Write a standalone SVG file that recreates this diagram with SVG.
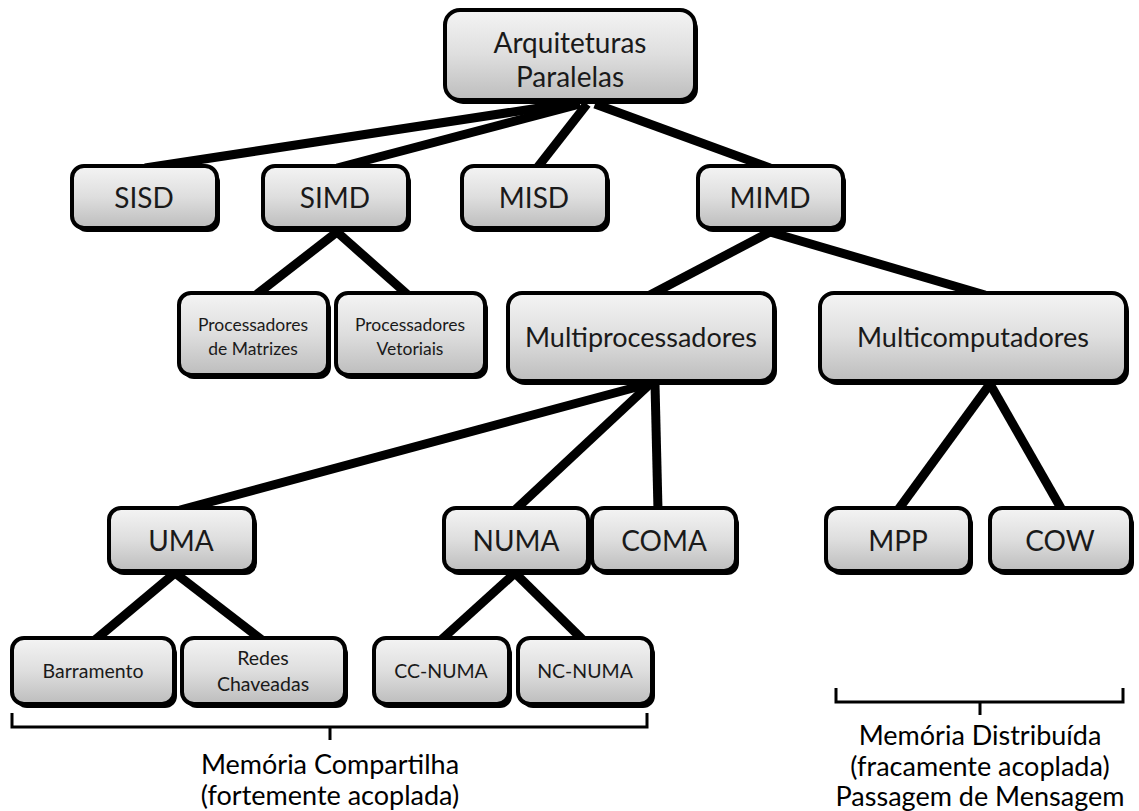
<svg xmlns="http://www.w3.org/2000/svg" width="1139" height="811" viewBox="0 0 1139 811">
  <defs>
    <linearGradient id="boxFill" x1="0" y1="0" x2="0" y2="1">
      <stop offset="0" stop-color="#f4f4f4"/>
      <stop offset="0.5" stop-color="#dedede"/>
      <stop offset="1" stop-color="#bdbdbd"/>
    </linearGradient>
    <style>
      .shadow { fill: #000; }
      .box { fill: url(#boxFill); stroke: #000; stroke-width: 4; }
      .lbl { font-family: Lato, "Open Sans", sans-serif; fill: #1a1a1a; text-anchor: middle; }
      .big { font-size: 28px; }
      .mid { font-size: 27px; }
      .small { font-size: 17.5px; }
      .leaf { font-size: 19.5px; }
      .note { font-family: Lato, "Open Sans", sans-serif; font-size: 27px; fill: #000; text-anchor: middle; }
      .conn { stroke: #000; stroke-width: 9; stroke-linecap: butt; fill: none; }
      .brace { stroke: #000; stroke-width: 3; fill: none; }
    </style>
  </defs>

  <!-- connectors -->
  <g id="connectors">
    <line class="conn" x1="565" y1="104" x2="145" y2="168"/>
    <line class="conn" x1="580" y1="104" x2="337" y2="168"/>
    <line class="conn" x1="587" y1="104" x2="537" y2="168"/>
    <line class="conn" x1="595" y1="104" x2="770" y2="168"/>
    <line class="conn" x1="337" y1="232" x2="256" y2="295"/>
    <line class="conn" x1="337" y1="232" x2="408" y2="295"/>
    <line class="conn" x1="770" y1="232" x2="650" y2="295"/>
    <line class="conn" x1="770" y1="232" x2="985" y2="295"/>
    <line class="conn" x1="648" y1="384" x2="180" y2="510"/>
    <line class="conn" x1="650" y1="384" x2="515" y2="510"/>
    <line class="conn" x1="655" y1="384" x2="658" y2="510"/>
    <line class="conn" x1="990" y1="384" x2="898" y2="510"/>
    <line class="conn" x1="990" y1="384" x2="1062" y2="510"/>
    <line class="conn" x1="175" y1="573" x2="95" y2="640"/>
    <line class="conn" x1="175" y1="573" x2="262" y2="640"/>
    <line class="conn" x1="515" y1="573" x2="441" y2="640"/>
    <line class="conn" x1="515" y1="573" x2="583" y2="640"/>
  </g>

  <!-- nodes -->
  <g id="node-arquiteturas">
    <rect class="shadow" x="448" y="14" width="250" height="90" rx="15"/>
    <rect class="box" x="445" y="10" width="250" height="90" rx="15"/>
    <text class="lbl big" x="570" y="53">Arquiteturas</text>
    <text class="lbl big" x="570" y="87">Paralelas</text>
  </g>
  <g id="node-sisd">
    <rect class="shadow" x="75" y="170" width="145" height="62" rx="12"/>
    <rect class="box" x="72" y="166" width="145" height="62" rx="12"/>
    <text class="lbl big" x="144" y="208">SISD</text>
  </g>
  <g id="node-simd">
    <rect class="shadow" x="266" y="170" width="145" height="62" rx="12"/>
    <rect class="box" x="263" y="166" width="145" height="62" rx="12"/>
    <text class="lbl big" x="335" y="208">SIMD</text>
  </g>
  <g id="node-misd">
    <rect class="shadow" x="465" y="170" width="145" height="62" rx="12"/>
    <rect class="box" x="462" y="166" width="145" height="62" rx="12"/>
    <text class="lbl big" x="534" y="208">MISD</text>
  </g>
  <g id="node-mimd">
    <rect class="shadow" x="701" y="170" width="145" height="62" rx="12"/>
    <rect class="box" x="698" y="166" width="145" height="62" rx="12"/>
    <text class="lbl big" x="770" y="208">MIMD</text>
  </g>
  <g id="node-proc-matrizes">
    <rect class="shadow" x="182" y="297" width="149" height="82" rx="12"/>
    <rect class="box" x="179" y="293" width="149" height="82" rx="12"/>
    <text class="lbl small" x="253" y="331">Processadores</text>
    <text class="lbl small" x="253" y="355">de Matrizes</text>
  </g>
  <g id="node-proc-vetoriais">
    <rect class="shadow" x="339" y="297" width="149" height="82" rx="12"/>
    <rect class="box" x="336" y="293" width="149" height="82" rx="12"/>
    <text class="lbl small" x="410" y="331">Processadores</text>
    <text class="lbl small" x="410" y="355">Vetoriais</text>
  </g>
  <g id="node-multiprocessadores">
    <rect class="shadow" x="511" y="297" width="266" height="88" rx="14"/>
    <rect class="box" x="508" y="293" width="266" height="88" rx="14"/>
    <text class="lbl mid" x="641" y="347">Multiprocessadores</text>
  </g>
  <g id="node-multicomputadores">
    <rect class="shadow" x="823" y="297" width="306" height="88" rx="14"/>
    <rect class="box" x="820" y="293" width="306" height="88" rx="14"/>
    <text class="lbl mid" x="973" y="347">Multicomputadores</text>
  </g>
  <g id="node-uma">
    <rect class="shadow" x="112" y="512" width="145" height="63" rx="12"/>
    <rect class="box" x="109" y="508" width="145" height="63" rx="12"/>
    <text class="lbl big" x="181" y="551">UMA</text>
  </g>
  <g id="node-numa">
    <rect class="shadow" x="447" y="512" width="144" height="63" rx="12"/>
    <rect class="box" x="444" y="508" width="144" height="63" rx="12"/>
    <text class="lbl big" x="516" y="551">NUMA</text>
  </g>
  <g id="node-coma">
    <rect class="shadow" x="595" y="512" width="144" height="63" rx="12"/>
    <rect class="box" x="592" y="508" width="144" height="63" rx="12"/>
    <text class="lbl big" x="664" y="551">COMA</text>
  </g>
  <g id="node-mpp">
    <rect class="shadow" x="829" y="512" width="144" height="63" rx="12"/>
    <rect class="box" x="826" y="508" width="144" height="63" rx="12"/>
    <text class="lbl big" x="898" y="551">MPP</text>
  </g>
  <g id="node-cow">
    <rect class="shadow" x="993" y="512" width="141" height="63" rx="12"/>
    <rect class="box" x="990" y="508" width="141" height="63" rx="12"/>
    <text class="lbl big" x="1060" y="551">COW</text>
  </g>
  <g id="node-barramento">
    <rect class="shadow" x="15" y="642" width="162" height="66" rx="12"/>
    <rect class="box" x="12" y="638" width="162" height="66" rx="12"/>
    <text class="lbl leaf" x="93" y="678">Barramento</text>
  </g>
  <g id="node-redes">
    <rect class="shadow" x="185" y="642" width="163" height="66" rx="12"/>
    <rect class="box" x="182" y="638" width="163" height="66" rx="12"/>
    <text class="lbl leaf" x="263" y="665">Redes</text>
    <text class="lbl leaf" x="263" y="691">Chaveadas</text>
  </g>
  <g id="node-cc-numa">
    <rect class="shadow" x="377" y="642" width="135" height="66" rx="12"/>
    <rect class="box" x="374" y="638" width="135" height="66" rx="12"/>
    <text class="lbl leaf" x="441" y="678">CC-NUMA</text>
  </g>
  <g id="node-nc-numa">
    <rect class="shadow" x="521" y="642" width="134" height="66" rx="12"/>
    <rect class="box" x="518" y="638" width="134" height="66" rx="12"/>
    <text class="lbl leaf" x="585" y="678">NC-NUMA</text>
  </g>

  <!-- grouping braces with captions -->
  <g id="shared-memory">
    <path class="brace" d="M12,713 V727 H647 V713 M330,727 V740"/>
    <text class="note" x="330" y="774">Memória Compartilha</text>
    <text class="note" x="330" y="805">(fortemente acoplada)</text>
  </g>
  <g id="distributed-memory">
    <path class="brace" d="M836,688 V702 H1123 V688 M980,702 V715"/>
    <text class="note" x="980" y="745">Memória Distribuída</text>
    <text class="note" x="980" y="776">(fracamente acoplada)</text>
    <text class="note" x="980" y="806">Passagem de Mensagem</text>
  </g>
</svg>
